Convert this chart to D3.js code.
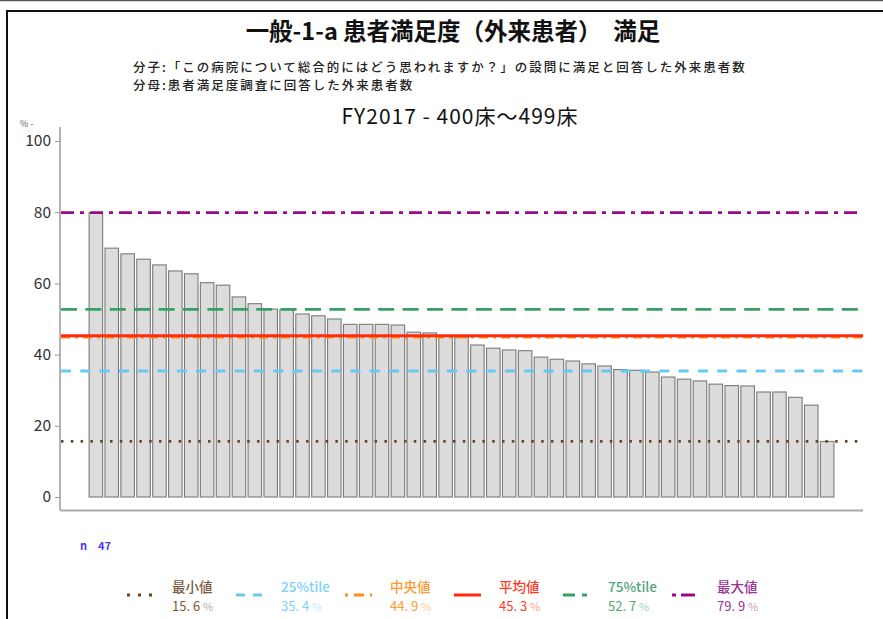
<!DOCTYPE html>
<html>
<head>
<meta charset="utf-8">
<script src="https://cdn.jsdelivr.net/npm/d3@7"></script>
<style>
  body { margin: 0; background: #fff; }
  text { font-family: "Noto Sans CJK JP", "Noto Sans", sans-serif; }
</style>
</head>
<body>
<script>

// bar values (%), sorted high to low, one per hospital
var values = [79.9, 69.9, 68.3, 66.8, 65.2, 63.5, 62.7, 60.2, 59.5, 56.2,
              54.3, 52.8, 52.6, 51.4, 50.9, 50.0, 48.5, 48.5, 48.5, 48.3,
              46.3, 46.1, 45.3, 44.9, 42.7, 41.8, 41.3, 41.1, 39.3, 38.7,
              38.2, 37.4, 36.8, 35.8, 35.6, 35.1, 33.7, 33.1, 32.6, 31.7,
              31.3, 31.2, 29.5, 29.5, 28.0, 25.8, 15.6];

// reference lines
var statLabels = ["最小値", "25%tile", "中央値", "平均値", "75%tile", "最大値"];
var statValues = [15.6, 35.4, 44.9, 45.3, 52.7, 79.9];
var statColors = ["#6e4418", "#66c8f7", "#ff9010", "#ff2a10", "#36a066", "#980a8c"];
var statTextColors = ["#7a5a3c", "#80d0ff", "#ff9a30", "#ff3b28", "#4fa878", "#9a3496"];
var statDash = ["2.5 7.3", "10 9.3", "9 5 3 5", null, "16 8.4", "13 6 4 6"];

var yTicks = [0, 20, 40, 60, 80, 100];
var nCount = 47;

var titleText = "一般-1-a 患者満足度（外来患者）　満足";
var subLines = ["分子:「この病院について総合的にはどう思われますか？」の設問に満足と回答した外来患者数",
                "分母:患者満足度調査に回答した外来患者数"];
var periodText = "FY2017 - 400床～499床";

function plot_it() {
    var W = 883, H = 619;
    var svg = d3.select("body").append("svg")
        .attr("width", W).attr("height", H);

    // outer frame
    svg.append("line").attr("x1", 0).attr("x2", W).attr("y1", 0.5).attr("y2", 0.5)
        .attr("stroke", "#555").attr("stroke-width", 1.5);
    svg.append("rect").attr("x", 7).attr("y", 11).attr("width", 900).attr("height", 700)
        .attr("fill", "none").attr("stroke", "#111").attr("stroke-width", 2);

    // titles
    svg.append("text").text(titleText)
        .attr("x", 453).attr("y", 40).attr("text-anchor", "middle")
        .attr("font-size", "23.5px").attr("font-weight", "bold").attr("fill", "#111");
    svg.append("text").text(subLines[0])
        .attr("x", 133).attr("y", 72).attr("font-size", "12.5px").attr("letter-spacing", "2px")
        .attr("font-weight", 500).attr("fill", "#222");
    svg.append("text").text(subLines[1])
        .attr("x", 133).attr("y", 90).attr("font-size", "12.5px").attr("letter-spacing", "2px")
        .attr("font-weight", 500).attr("fill", "#222");
    svg.append("text").text(periodText)
        .attr("x", 460).attr("y", 124).attr("text-anchor", "middle")
        .attr("font-size", "21px").attr("letter-spacing", "1px").attr("fill", "#111");

    // scales
    var x = d3.scaleBand()
        .domain(d3.range(values.length))
        .range([60, 863])
        .paddingInner(0.15)
        .paddingOuter(1.83);

    var y = d3.scaleLinear()
        .domain([0, 100])
        .range([497, 141]);

    // y axis
    var yAxis = svg.append("g")
        .attr("transform", "translate(60,0)")
        .call(d3.axisLeft(y).tickValues(yTicks).tickSize(5).tickPadding(4));
    yAxis.select(".domain").attr("d", "M0,127V510").attr("stroke", "#9a9a9a").attr("stroke-width", 1.5);
    yAxis.selectAll(".tick line").attr("stroke", "#9a9a9a");
    yAxis.selectAll(".tick text").attr("font-size", "15.5px").attr("fill", "#333")
        .attr("font-family", "'Noto Sans', sans-serif");

    svg.append("text").text("% -")
        .attr("x", 20).attr("y", 127).attr("font-size", "9px").attr("fill", "#666");

    // x baseline
    svg.append("line")
        .attr("x1", 60).attr("x2", 863).attr("y1", 510.5).attr("y2", 510.5)
        .attr("stroke", "#aaa").attr("stroke-width", 2);

    // bars
    svg.selectAll("rect.bar").data(values).enter().append("rect")
        .attr("class", "bar")
        .attr("x", function (d, i) { return x(i); })
        .attr("y", function (d) { return y(d); })
        .attr("width", x.bandwidth())
        .attr("height", function (d) { return y(0) - y(d); })
        .attr("fill", "#dcdcdc")
        .attr("stroke", "#7a7a7a")
        .attr("stroke-width", 1.1);

    // reference lines (median drawn before mean so mean sits on top)
    var order = [0, 1, 4, 5, 2, 3];
    order.forEach(function (k) {
        svg.append("line")
            .attr("x1", 61).attr("x2", 863)
            .attr("y1", y(statValues[k])).attr("y2", y(statValues[k]))
            .attr("stroke", statColors[k])
            .attr("stroke-width", k == 3 ? 3 : 2.8)
            .attr("stroke-dasharray", statDash[k]);
    });

    // n
    var nt = svg.append("text")
        .attr("y", 550).attr("font-size", "11px").attr("font-weight", "bold")
        .attr("fill", "#4a3cf0");
    nt.append("tspan").attr("x", 80).text("n");
    nt.append("tspan").attr("x", 98).text(nCount);

    // legend
    var legend = svg.append("g");
    statLabels.forEach(function (lab, k) {
        var tx = 172 + 109 * k;
        legend.append("line")
            .attr("x1", tx - 45).attr("x2", tx - 18)
            .attr("y1", 595).attr("y2", 595)
            .attr("stroke", statColors[k]).attr("stroke-width", 3)
            .attr("stroke-dasharray", k == 0 ? "3 8" : k == 1 ? "9 8" : k == 2 ? "3 6 10 6" : k == 4 ? "12 7 5 7" : k == 5 ? "4 5 14 5" : null);
        legend.append("text").text(lab)
            .attr("x", tx).attr("y", 592)
            .attr("font-size", "13.5px").attr("font-weight", 500)
            .attr("font-family", "'DejaVu Sans Mono', 'Noto Sans CJK JP', monospace")
            .attr("fill", statTextColors[k]);
        var t = legend.append("text")
            .attr("x", tx).attr("y", 611)
            .attr("font-size", "13px")
            .attr("font-family", "'Noto Sans CJK JP', sans-serif")
            .attr("fill", statTextColors[k]);
        t.append("tspan").text(statValues[k].toFixed(1).replace(".", ". ") + " ");
        t.append("tspan").text("%").attr("font-size", "11px").attr("fill-opacity", 0.55);
    });
}

plot_it();
</script>
</body>
</html>
